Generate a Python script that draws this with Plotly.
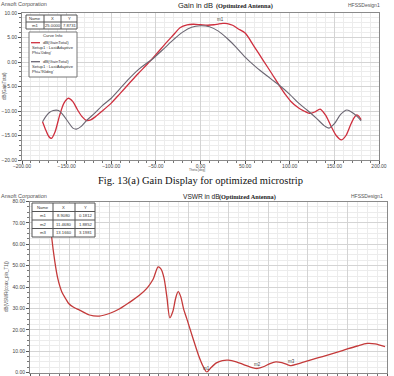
import plotly.graph_objects as go

W, H = 394, 376

# ---------------- data ----------------
theta_red = [-177, -174, -170, -167, -163, -158, -153, -148, -143, -138, -133, -128, -123, -118,
             -110, -100, -90, -80, -70, -60, -50, -40, -30, -23, -15, -8, 0, 8, 15, 20, 25, 30,
             36, 42, 50, 60, 70, 80, 88, 95, 101, 110, 116, 122, 128, 134, 140, 146, 152, 158,
             163, 168, 172, 175, 178, 180]
gain_red = [-12.2, -13.6, -15.2, -15.6, -14.3, -11.0, -8.4, -7.4, -8.1, -9.7, -11.1, -11.9, -11.8, -11.2,
            -10.0, -8.4, -6.4, -4.4, -2.4, -0.5, 1.5, 3.6, 5.6, 7.0, 7.6, 7.7, 7.6, 7.5, 7.6, 7.75, 7.87, 7.85,
            7.5, 6.8, 5.9, 3.2, 0.4, -2.4, -4.7, -6.6, -8.0, -9.4, -10.0, -10.5, -10.2, -9.6, -10.8, -13.0, -15.0, -15.9,
            -15.0, -12.9, -11.4, -10.8, -11.2, -11.8]

theta_gray = [-177, -174, -170, -165, -159, -154, -148, -143, -139, -134, -128, -120, -110, -100,
              -90, -80, -70, -60, -55, -50, -40, -30, -20, -10, 0, 10, 20, 30, 40, 50, 60, 70, 80, 88,
              100, 110, 120, 130, 138, 144, 150, 157, 164, 170, 176, 180]
gain_gray = [-12.2, -11.3, -10.4, -9.9, -9.9, -10.8, -12.3, -13.5, -13.7, -13.2, -12.0, -10.7, -8.9, -7.4,
             -5.4, -3.4, -1.6, -0.2, 0.4, 1.2, 2.9, 4.6, 6.1, 7.1, 7.4, 7.2, 6.3, 4.8, 3.0, 1.0, -0.7, -2.2, -3.6, -4.7,
             -6.6, -8.4, -9.9, -11.5, -12.9, -13.5, -12.6, -10.7, -9.8, -10.3, -11.2, -12.0]

freq_ghz = [0.95, 1.09, 1.25, 1.4, 1.6, 1.8, 1.95, 2.2, 2.5, 3.0, 3.5, 4.0, 4.5, 5.0, 5.5, 5.9, 6.2,
            6.46, 6.6, 6.75, 6.9, 7.05, 7.2, 7.35, 7.47, 7.6, 7.75, 7.9, 8.2, 8.5, 8.75, 8.908, 9.1, 9.4,
            9.7, 10.0, 10.4, 10.8, 11.2, 11.468, 11.8, 12.1, 12.4, 12.7, 13.0, 13.166, 13.5, 14.0, 14.5,
            15.0, 15.5, 16.0, 16.5, 17.0, 17.4, 17.9]
vswr_db = [78, 63.5, 52, 44, 37.8, 34.5, 32.3, 30.5, 29.2, 26.9, 26.4, 27.6, 29.7, 32.7, 36.0, 39.5, 43.5,
           49.4, 48.5, 44.5, 35.5, 25.6, 28.5, 35.0, 37.8, 35.5, 29.5, 25.3, 16.5, 8.0, 2.5, 0.18, 2.0, 4.5,
           5.6, 5.8, 5.0, 3.6, 2.3, 1.885, 2.8, 4.2, 5.0, 4.6, 3.6, 3.2, 4.0, 5.4, 6.8,
           8.1, 9.5, 11.0, 12.4, 13.6, 13.4, 12.1]

gain_table_header = ["Name", "X", "Y"]
gain_table_rows = [["m1", "25.0000", "7.8731"]]
vswr_table_header = ["Name", "X", "Y"]
vswr_table_rows = [["m1", "8.9080", "0.1812"],
                   ["m2", "11.4680", "1.8852"],
                   ["m3", "13.1660", "3.1981"]]
vswr_marker_x = [8.908, 11.468, 13.166]
vswr_marker_y = [0.1812, 1.8852, 3.1981]
vswr_marker_names = ["m1", "m2", "m3"]

RED = "#cf2f3e"
GRAY = "#6b6672"
VRED = "#c43a3a"


def px(x):
    return x / W


def py(y):
    return 1 - y / H


fig = go.Figure()
fig.add_trace(go.Scatter(x=theta_red, y=gain_red, mode="lines", line=dict(color=RED, width=1.3, shape="spline", smoothing=0.8),
                         xaxis="x", yaxis="y", showlegend=False))
fig.add_trace(go.Scatter(x=theta_gray, y=gain_gray, mode="lines", line=dict(color=GRAY, width=1.1, shape="spline", smoothing=0.8),
                         xaxis="x", yaxis="y", showlegend=False))
fig.add_trace(go.Scatter(x=freq_ghz, y=vswr_db, mode="lines", line=dict(color=VRED, width=1.3, shape="spline", smoothing=0.8),
                         xaxis="x2", yaxis="y2", showlegend=False, cliponaxis=True))

axis_common = dict(showline=True, linecolor="#8a8a8a", linewidth=1, mirror=True, automargin=False,
                   showgrid=True, gridcolor="#d4d4d4", gridwidth=1, zeroline=False,
                   ticks="outside", ticklen=3, tickcolor="#555", tickwidth=1,
                   tickfont=dict(family="Liberation Sans", size=5, color="#444"),
                   tickformat=".2f")

fig.update_layout(
    template="none",
    width=W, height=H, margin=dict(l=0, r=0, t=0, b=0, pad=0),
    paper_bgcolor="white", plot_bgcolor="white",
    xaxis=dict(domain=[px(22), px(379)], range=[-200, 200], tick0=-200, dtick=50, anchor="y",
               ticklabelstandoff=-2,
               minor=dict(dtick=10, showgrid=True, gridcolor="#ececec", ticks="outside", ticklen=2, tickcolor="#777"),
               **axis_common),
    yaxis=dict(domain=[py(160), py(13)], range=[-20, 10], dtick=5, anchor="x",
               minor=dict(dtick=1, showgrid=True, gridcolor="#ececec", ticks="outside", ticklen=2, tickcolor="#777"),
               **axis_common),
    xaxis2=dict(domain=[px(30), px(387)], range=[0, 18], dtick=2, anchor="y2",
                minor=dict(dtick=0.5, showgrid=True, gridcolor="#ececec", ticks="outside", ticklen=2, tickcolor="#777"),
                **axis_common),
    yaxis2=dict(domain=[py(372.5), py(201.5)], range=[0, 80], dtick=10, anchor="x2",
                minor=dict(dtick=2.5, showgrid=True, gridcolor="#ececec", ticks="outside", ticklen=2, tickcolor="#777"),
                **axis_common),
)

ann = []
shapes = []


def text(x, y, s, size=5, color="#444", family="Liberation Sans", xanchor="left", textangle=0, yanchor="middle"):
    ann.append(dict(x=px(x), y=py(y), xref="paper", yref="paper", text=s, showarrow=False,
                    xanchor=xanchor, yanchor=yanchor, textangle=textangle, borderpad=0,
                    font=dict(size=size, color=color, family=family)))


# headers
text(0, 4, "Ansoft Corporation", size=5.5, color="#555")
text(177, 6, "Gain in dB", size=7.5, color="#222")
text(215, 6.5, "<b>(Optimized Antenna)</b>", size=6.3, color="#222", family="Liberation Serif")
text(347, 5, "HFSSDesign1", size=5, color="#555")
text(0, 196, "Ansoft Corporation", size=5.5, color="#555")
text(182, 196, "VSWR in dB", size=6.6, color="#222")
text(218, 196.5, "<b>(Optimized Antenna)</b>", size=6.3, color="#222", family="Liberation Serif")
text(350, 196, "HFSSDesign1", size=5, color="#555")
text(200, 181, "Fig. 13(a) Gain Display for optimized microstrip", size=10.5, color="#111",
     family="Liberation Serif", xanchor="center")
text(5, 86, "dB(GainTotal)", size=4.5, color="#555", xanchor="center", textangle=-90)
text(6, 287, "dB(VSWR(coax_pin_T1))", size=4.5, color="#555", xanchor="center", textangle=-90)
text(197, 169.5, "Theta [deg]", size=3.2, color="#555", xanchor="center")


def table(x_edges, y_edges, header, rows):
    shapes.append(dict(type="rect", xref="paper", yref="paper", x0=px(x_edges[0]), x1=px(x_edges[-1]),
                       y0=py(y_edges[-1]), y1=py(y_edges[0]), fillcolor="white",
                       line=dict(color="#555", width=1), layer="above"))
    for xe in x_edges[1:-1]:
        shapes.append(dict(type="line", xref="paper", yref="paper", x0=px(xe), x1=px(xe),
                           y0=py(y_edges[-1]), y1=py(y_edges[0]), line=dict(color="#555", width=1), layer="above"))
    for ye in y_edges[1:-1]:
        shapes.append(dict(type="line", xref="paper", yref="paper", x0=px(x_edges[0]), x1=px(x_edges[-1]),
                           y0=py(ye), y1=py(ye), line=dict(color="#555", width=1), layer="above"))
    all_rows = [header] + rows
    for r, row in enumerate(all_rows):
        yc = (y_edges[r] + y_edges[r + 1]) / 2
        for c, cell in enumerate(row):
            xc = (x_edges[c] + x_edges[c + 1]) / 2
            text(xc, yc, cell, size=4.2, color="#333", xanchor="center")


table([26, 44, 61, 77], [15, 22, 29], gain_table_header, gain_table_rows)
table([32, 53, 75, 95], [203, 211.5, 220, 228.5, 237], vswr_table_header, vswr_table_rows)

# Curve info box
shapes.append(dict(type="rect", xref="paper", yref="paper", x0=px(29), x1=px(77), y0=py(77), y1=py(32),
                   fillcolor="white", line=dict(color="#777", width=1), layer="above"))
text(53, 36, "Curve Info", size=4.2, color="#333", xanchor="center")
shapes.append(dict(type="line", xref="paper", yref="paper", x0=px(31), x1=px(40), y0=py(42.7), y1=py(42.7),
                   line=dict(color=RED, width=1.3), layer="above"))
text(42, 42.7, "dB(GainTotal)", size=4.2, color="#333")
text(31, 47.7, "Setup1 : LastAdaptive", size=4.2, color="#333")
text(31, 52.5, "Phi='0deg'", size=4.2, color="#333")
shapes.append(dict(type="line", xref="paper", yref="paper", x0=px(31), x1=px(40), y0=py(61.7), y1=py(61.7),
                   line=dict(color=GRAY, width=1.3), layer="above"))
text(42, 61.7, "dB(GainTotal)", size=4.2, color="#333")
text(31, 66.7, "Setup1 : LastAdaptive", size=4.2, color="#333")
text(31, 71.7, "Phi='90deg'", size=4.2, color="#333")

# marker labels (data coords)
ann.append(dict(x=25, y=7.8731, xref="x", yref="y", text="m1", showarrow=False, yshift=4, xshift=-2,
                font=dict(size=4.5, color="#444", family="Liberation Sans")))
for mx, my, mn in zip(vswr_marker_x, vswr_marker_y, vswr_marker_names):
    ann.append(dict(x=mx, y=my, xref="x2", yref="y2", text=mn, showarrow=False, yshift=4,
                    font=dict(size=4.5, color="#444", family="Liberation Sans")))

fig.update_layout(annotations=ann, shapes=shapes)
fig.write_html("out.html")
